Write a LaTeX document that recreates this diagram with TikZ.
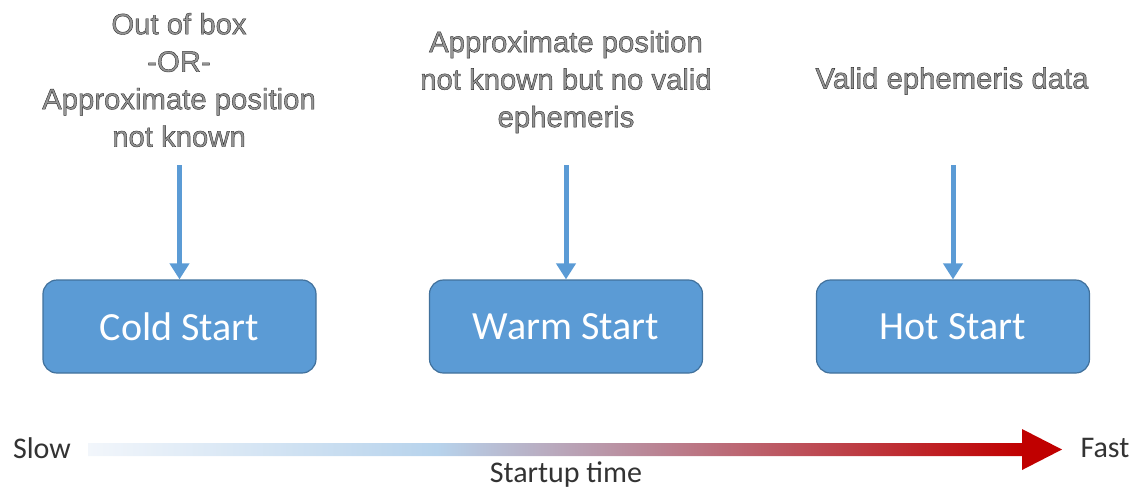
\documentclass[tikz,border=0pt]{standalone}
\usepackage{fontspec}
\setmainfont{Liberation Sans}
\newfontfamily\carlito{Carlito}
\newfontfamily\arialf{Liberation Sans}[FakeBold=1.4]
\usetikzlibrary{arrows.meta}
\definecolor{boxblue}{HTML}{5B9BD5}
\definecolor{boxedge}{HTML}{41719C}
\definecolor{toptext}{HTML}{959595}
\definecolor{gradA}{HTML}{F2F6FB}
\definecolor{gradB}{HTML}{B7D3EC}
\definecolor{gradC}{HTML}{C00000}
\definecolor{labeltext}{HTML}{333333}
\pgfdeclarehorizontalshading{startup}{100bp}{color(0bp)=(gradA); color(25bp)=(gradA); color(42.9bp)=(gradB); color(73bp)=(gradC); color(100bp)=(gradC)}
\newcommand{\outlinestroke}{\special{pdf:code 0.18 0.18 0.18 RG}}
\tikzset{
  startbox/.style={draw=boxedge, line width=1.2pt, fill=boxblue, rounded corners=14pt,
    minimum width=273pt, minimum height=93pt, text=white, font=\carlito\fontsize{40}{48}\selectfont, inner sep=0pt},
  cond/.style={text=toptext, align=center, font=\arialf\fontsize{29.3}{37.5}\selectfont, inner sep=0pt},
  feed/.style={draw=boxblue, line width=5pt, -{Triangle[width=19pt,length=16pt]}},
  axislabel/.style={text=labeltext, font=\carlito\fontsize{30}{36}\selectfont, inner sep=0pt}
}
\begin{document}
\begin{tikzpicture}[x=1pt,y=-1pt]
\useasboundingbox (0,0) rectangle (1142,491);
% boxes
\node[startbox] (cold) at (179.5,326.5) {Cold Start};
\node[startbox] (warm) at (566,326.5) {Warm Start};
\node[startbox] (hot) at (953,326.5) {Hot Start};
% condition texts
\node[cond] (tcold) at (179,80) {\outlinestroke Out of box\\\outlinestroke -OR-\\\outlinestroke Approximate position\\\outlinestroke not known};
\node[cond] (twarm) at (566,82) {\outlinestroke Approximate position\\\outlinestroke not known but no valid\\\outlinestroke ephemeris};
\node[cond] (thot) at (952,81) {\outlinestroke Valid ephemeris data};
% arrow starts
\coordinate (scold) at (cold.north |- 0,165);
\coordinate (swarm) at (warm.north |- 0,165);
\coordinate (shot) at (hot.north |- 0,165);
\draw[feed] (scold) -- (cold.north);
\draw[feed] (swarm) -- (warm.north);
\draw[feed] (shot) -- (hot.north);
% startup time arrow
\coordinate (gs) at (88,449.5);
\coordinate (ge) at (1062,449.5);
\path[shading=startup] (gs |- 0,443) -- (1022,443) -- (1022,429) -- (ge) -- (1022,470) -- (1022,456) -- (gs |- 0,456) -- cycle;
\node[axislabel] (slow) at (42,448) {Slow};
\node[axislabel] (fast) at (1105,448) {Fast};
\node[axislabel] (stime) at (566,475) {Startup time};
\end{tikzpicture}
\end{document}
